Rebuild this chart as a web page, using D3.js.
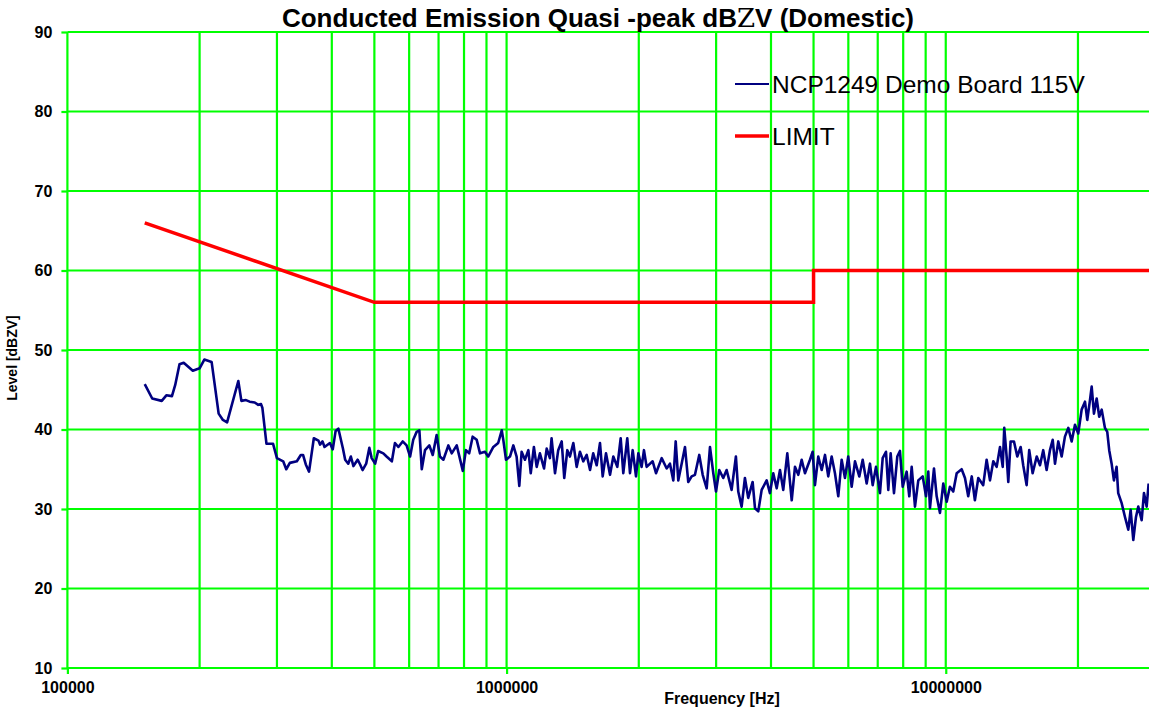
<!DOCTYPE html>
<html>
<head>
<meta charset="utf-8">
<script src="https://cdn.jsdelivr.net/npm/d3@7"></script>
<style>
  body { margin: 0; background: #ffffff; }
  text { font-family: Arial, "Liberation Sans", sans-serif; }
</style>
</head>
<body>
<div id="emission-chart"></div>
<script>
const WIDTH = 1149;
const HEIGHT = 710;

// plot box in page pixels
const PLOT = { LEFT: 67.4, RIGHT: 1155.3, TOP: 32, BOTTOM: 668 };

const GREEN = "#00ff00";

// y ticks / grid
const levelTicks = [10, 20, 30, 40, 50, 60, 70, 80, 90];
// x decade labels (Hz)
const decadeTicks = [100000, 1000000, 10000000];
// vertical grid lines (Hz)
const gridFreqs = [
  100000, 200000, 300000, 400000, 500000, 600000, 700000, 800000, 900000,
  1000000, 2000000, 3000000, 4000000, 5000000, 6000000, 7000000, 8000000, 9000000,
  10000000, 20000000, 30000000,
];

// limit line (MHz, dBuV)
const limitFreqMHz = [0.15, 0.5, 5, 5, 30];
const limitLevel = [66, 56, 56, 60, 60];

const emissionFreqMHz = [
  0.150, 0.156, 0.164, 0.168, 0.173, 0.176, 0.180, 0.184, 0.193, 0.200,
  0.205, 0.213, 0.221, 0.226, 0.231, 0.245, 0.249, 0.255, 0.260, 0.267,
  0.272, 0.276, 0.278, 0.284, 0.294, 0.300, 0.310, 0.315, 0.321, 0.333,
  0.340, 0.344, 0.349, 0.355, 0.364, 0.373, 0.376, 0.381, 0.385, 0.396,
  0.402, 0.408, 0.414, 0.424, 0.429, 0.436, 0.442, 0.448, 0.458, 0.464,
  0.470, 0.479, 0.487, 0.493, 0.502, 0.510, 0.524, 0.533, 0.548, 0.557,
  0.567, 0.580, 0.592, 0.603, 0.613, 0.624, 0.633, 0.641, 0.652, 0.667,
  0.679, 0.693, 0.705, 0.718, 0.737, 0.750, 0.770, 0.795, 0.808, 0.822,
  0.837, 0.855, 0.870, 0.893, 0.908, 0.933, 0.957, 0.975, 0.983, 0.997,
  1.018, 1.036, 1.054, 1.069, 1.082, 1.101, 1.121, 1.135, 1.154, 1.171,
  1.191, 1.217, 1.234, 1.255, 1.266, 1.289, 1.311, 1.335, 1.353, 1.375,
  1.394, 1.419, 1.444, 1.469, 1.495, 1.522, 1.549, 1.575, 1.604, 1.632,
  1.655, 1.684, 1.720, 1.750, 1.787, 1.819, 1.844, 1.883, 1.910, 1.937,
  1.971, 1.995, 2.030, 2.055, 2.084, 2.151, 2.189, 2.255, 2.315, 2.355,
  2.397, 2.427, 2.460, 2.504, 2.548, 2.592, 2.639, 2.685, 2.746, 2.796,
  2.855, 2.905, 2.956, 2.998, 3.050, 3.114, 3.170, 3.254, 3.328, 3.369,
  3.429, 3.489, 3.550, 3.633, 3.678, 3.742, 3.809, 3.910, 3.978, 4.048,
  4.121, 4.193, 4.266, 4.357, 4.459, 4.536, 4.616, 4.698, 4.780, 4.907,
  4.977, 5.037, 5.125, 5.218, 5.309, 5.401, 5.498, 5.594, 5.692, 5.794,
  5.895, 5.998, 6.106, 6.213, 6.355, 6.469, 6.606, 6.721, 6.817, 6.936,
  7.083, 7.184, 7.310, 7.399, 7.491, 7.623, 7.756, 7.865, 7.978, 8.147,
  8.259, 8.364, 8.510, 8.659, 8.861, 9.016, 9.125, 9.205, 9.401, 9.535,
  9.701, 9.870, 10.05, 10.22, 10.40, 10.59, 10.87, 11.06, 11.25, 11.46,
  11.65, 11.86, 12.17, 12.39, 12.61, 12.83, 13.06, 13.29, 13.48, 13.59,
  13.76, 13.88, 14.05, 14.30, 14.55, 14.81, 15.01, 15.28, 15.49, 15.77,
  16.11, 16.39, 16.67, 16.97, 17.27, 17.52, 17.73, 18.04, 18.36, 18.68,
  19.01, 19.35, 19.69, 20.03, 20.39, 20.75, 21.00, 21.30, 21.49, 21.75,
  22.06, 22.36, 22.65, 23.04, 23.32, 23.56, 23.86, 24.15, 24.49, 24.70,
  25.16, 25.59, 26.04, 26.36, 26.73, 27.11, 27.44, 27.93, 28.27, 28.67,
  28.97,
];
const emissionLevel = [
  45.7, 43.9, 43.6, 44.3, 44.2, 45.6, 48.2, 48.4, 47.4, 47.7,
  48.8, 48.5, 42.0, 41.2, 40.9, 46.1, 43.6, 43.7, 43.5, 43.4,
  43.1, 43.2, 42.7, 38.2, 38.2, 36.4, 36.0, 35.0, 35.8, 36.0,
  36.8, 36.8, 35.6, 34.7, 38.9, 38.6, 38.1, 38.5, 37.8, 38.3,
  37.5, 39.8, 40.1, 37.6, 36.2, 35.7, 36.6, 35.4, 36.2, 35.6,
  34.9, 35.7, 37.7, 36.4, 35.7, 37.3, 37.0, 36.6, 36.0, 38.3,
  37.8, 38.5, 38.0, 36.6, 38.7, 39.7, 39.9, 35.0, 37.4, 38.0,
  36.8, 39.3, 36.6, 36.2, 38.0, 37.0, 38.0, 34.8, 37.4, 37.0,
  39.1, 38.7, 37.0, 37.2, 36.6, 37.8, 38.3, 39.9, 38.7, 36.2,
  36.6, 38.0, 36.6, 32.9, 37.2, 36.2, 37.4, 34.5, 37.8, 35.3,
  37.0, 35.1, 37.6, 36.4, 38.9, 34.5, 37.4, 38.5, 33.9, 37.4,
  36.6, 38.3, 35.3, 37.2, 36.0, 36.8, 34.9, 37.0, 35.5, 38.3,
  34.1, 37.0, 34.3, 36.6, 35.3, 38.9, 34.5, 38.9, 34.5, 37.4,
  34.1, 37.0, 35.3, 37.4, 35.3, 36.0, 34.5, 36.4, 35.1, 35.7,
  33.6, 38.5, 33.6, 35.7, 37.8, 33.4, 34.1, 34.3, 36.8, 34.3,
  32.6, 37.8, 34.5, 32.2, 34.9, 33.9, 34.9, 32.4, 36.6, 32.2,
  30.3, 33.9, 31.4, 33.4, 30.1, 29.7, 32.4, 33.6, 32.0, 34.5,
  32.6, 34.9, 32.4, 37.0, 31.1, 35.3, 34.3, 36.2, 34.5, 36.2,
  37.2, 33.0, 36.6, 34.9, 36.8, 34.1, 36.6, 34.5, 31.6, 36.2,
  33.9, 36.6, 32.8, 36.0, 34.1, 36.2, 33.2, 35.7, 33.0, 35.3,
  32.0, 36.4, 37.2, 32.4, 37.0, 32.0, 36.6, 37.3, 32.8, 34.7,
  31.6, 35.3, 30.3, 33.6, 34.1, 31.6, 34.7, 30.1, 35.1, 31.6,
  29.5, 33.2, 30.9, 32.8, 32.2, 34.5, 35.0, 33.9, 31.6, 34.1,
  31.1, 33.9, 33.0, 36.2, 33.6, 36.0, 35.3, 37.8, 35.3, 40.2,
  36.6, 33.4, 38.5, 38.5, 36.6, 37.8, 35.5, 33.0, 37.4, 34.5,
  36.6, 35.5, 37.4, 34.9, 37.4, 38.7, 35.7, 38.5, 36.6, 39.1,
  40.2, 38.5, 40.6, 39.5, 42.5, 43.5, 41.2, 43.7, 45.4, 42.0,
  43.9, 41.6, 42.5, 40.2, 39.7, 37.4, 35.7, 33.6, 35.3, 32.0,
  30.7, 29.0, 27.4, 29.9, 26.1, 29.0, 30.3, 28.6, 32.0, 30.3,
  33.2,
];

const emission = emissionFreqMHz.map((f, i) => ({ f: f * 1e6, v: emissionLevel[i] }));
const limit = limitFreqMHz.map((f, i) => ({ f: f * 1e6, v: limitLevel[i] }));

const svg = d3
  .select("#emission-chart")
  .append("svg")
  .attr("width", WIDTH)
  .attr("height", HEIGHT);

const x = d3.scaleLog().domain([1e5, 3e7]).range([PLOT.LEFT, PLOT.RIGHT]);
const y = d3.scaleLinear().domain([10, 90]).range([PLOT.BOTTOM, PLOT.TOP]);

// grid
svg
  .append("g")
  .selectAll("line")
  .data(levelTicks)
  .enter()
  .append("line")
  .attr("x1", PLOT.LEFT)
  .attr("x2", PLOT.RIGHT)
  .attr("y1", (d) => y(d))
  .attr("y2", (d) => y(d))
  .style("stroke", GREEN)
  .style("stroke-width", 2.2);

svg
  .append("g")
  .selectAll("line")
  .data(gridFreqs)
  .enter()
  .append("line")
  .attr("x1", (d) => x(d))
  .attr("x2", (d) => x(d))
  .attr("y1", PLOT.TOP)
  .attr("y2", PLOT.BOTTOM)
  .style("stroke", GREEN)
  .style("stroke-width", 2.2);

// axes
svg
  .append("g")
  .attr("transform", `translate(${PLOT.LEFT}, 0)`)
  .call(d3.axisLeft(y).tickValues(levelTicks).tickSize(6).tickPadding(9))
  .call((g) => {
    g.select(".domain").remove();
    g.selectAll(".tick line").style("stroke", GREEN).style("stroke-width", 2.2);
    g.selectAll(".tick text")
      .style("font-size", "16px")
      .style("font-weight", "bold")
      .style("font-family", "Arial, 'Liberation Sans', sans-serif")
      .style("fill", "#000");
  });

svg
  .append("g")
  .attr("transform", `translate(0, ${PLOT.BOTTOM})`)
  .call(
    d3.axisBottom(x).tickValues(decadeTicks).tickFormat(d3.format("d")).tickSize(6).tickPadding(8)
  )
  .call((g) => {
    g.select(".domain").remove();
    g.selectAll(".tick line").style("stroke", GREEN).style("stroke-width", 2.2);
    g.selectAll(".tick text")
      .style("font-size", "16px")
      .style("font-weight", "bold")
      .style("font-family", "Arial, 'Liberation Sans', sans-serif")
      .style("fill", "#000");
  });

// series
const line = d3
  .line()
  .x((d) => x(d.f))
  .y((d) => y(d.v));

svg
  .append("path")
  .datum(emission)
  .attr("d", line)
  .style("fill", "none")
  .style("stroke", "#000080")
  .style("stroke-width", 2.6)
  .style("stroke-linejoin", "round");

svg
  .append("path")
  .datum(limit)
  .attr("d", line)
  .style("fill", "none")
  .style("stroke", "#ff0000")
  .style("stroke-width", 3.5);

// title
const title = svg
  .append("text")
  .attr("x", 598)
  .attr("y", 27)
  .attr("text-anchor", "middle")
  .style("font-size", "26px")
  .style("font-weight", "bold");
title.append("tspan").text("Conducted Emission Quasi -peak dB");
title
  .append("tspan")
  .style("font-family", "'DejaVu Serif', serif")
  .style("font-weight", "normal")
  .text("Z");
title.append("tspan").text("V (Domestic)");

// axis titles
svg
  .append("text")
  .attr("x", 722)
  .attr("y", 704)
  .attr("text-anchor", "middle")
  .style("font-size", "16px")
  .style("font-weight", "bold")
  .text("Frequency [Hz]");

svg
  .append("text")
  .attr("transform", "translate(17, 358) rotate(-90)")
  .attr("text-anchor", "middle")
  .style("font-size", "14px")
  .style("font-weight", "bold")
  .text("Level [dBZV]");

// legend
const legendItems = [
  { name: "NCP1249 Demo Board 115V", color: "#000080", width: 2.2, y: 84 },
  { name: "LIMIT", color: "#ff0000", width: 3.5, y: 136 },
];
const legend = svg.append("g");
legend
  .selectAll("line")
  .data(legendItems)
  .enter()
  .append("line")
  .attr("x1", 735)
  .attr("x2", 769)
  .attr("y1", (d) => d.y)
  .attr("y2", (d) => d.y)
  .style("stroke", (d) => d.color)
  .style("stroke-width", (d) => d.width);
legend
  .selectAll("text")
  .data(legendItems)
  .enter()
  .append("text")
  .attr("x", 772)
  .attr("y", (d) => d.y + 9)
  .style("font-size", "24.5px")
  .text((d) => d.name);
</script>
</body>
</html>
